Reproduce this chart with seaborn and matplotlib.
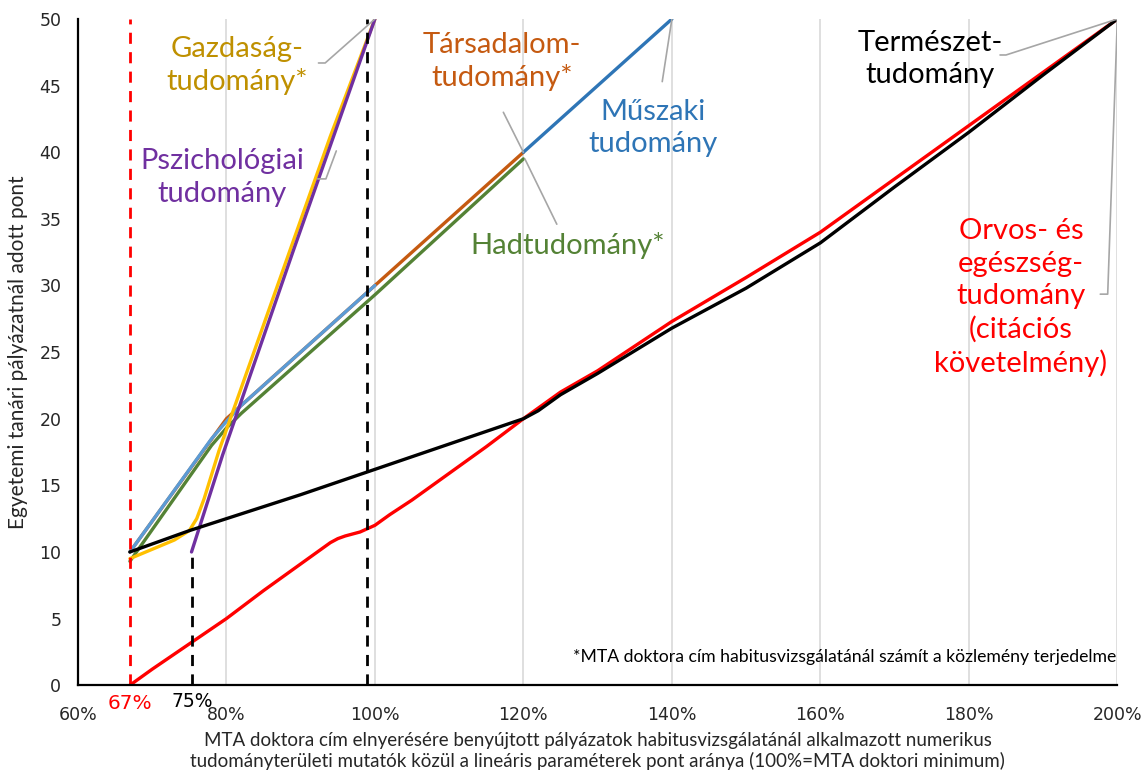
import matplotlib
matplotlib.use("Agg")
import matplotlib.pyplot as plt
import seaborn as sns

# (x in %, y in points)
orvos_x = [67, 70, 75, 80, 85, 90, 92, 94, 95, 96, 98, 100, 102, 105, 110, 115, 120, 125, 130, 140, 150, 160, 170, 180, 190, 200]
orvos_y = [0, 1.2, 3.1, 5.0, 7.1, 9.1, 9.9, 10.7, 11.0, 11.2, 11.5, 12.0, 12.8, 13.9, 15.9, 17.9, 20.0, 22.0, 23.6, 27.3, 30.6, 34.0, 38.0, 42.0, 46.0, 50.0]

termeszet_x = [67, 75, 90, 100, 110, 120, 122, 125, 130, 140, 150, 160, 170, 180, 190, 200]
termeszet_y = [10, 11.6, 14.3, 16.2, 18.1, 20.0, 20.6, 21.8, 23.4, 26.8, 29.8, 33.2, 37.4, 41.5, 45.8, 50.0]

gazdasag_x = [67, 70, 73, 75, 76, 77, 78, 79, 88.6, 94, 100]
gazdasag_y = [9.5, 10.2, 10.9, 11.6, 12.5, 14.0, 15.8, 17.6, 32.7, 41.2, 50.0]

pszich_x = [75.3, 79.5, 89, 100]
pszich_y = [10.0, 17.3, 32.6, 50.0]

tarsadalom_x = [67, 80, 100, 120]
tarsadalom_y = [10, 20, 30, 40]

muszaki_x = [67, 78, 80, 82, 100]
muszaki_y = [10, 18.5, 19.8, 21.0, 30]

muszaki2_x = [120, 140]
muszaki2_y = [40, 50]

had_x = [67, 78, 80, 82, 100, 120]
had_y = [9.3, 18.0, 19.3, 20.4, 29.3, 39.5]

x_ticks = [60, 80, 100, 120, 140, 160, 180, 200]
y_ticks = [0, 5, 10, 15, 20, 25, 30, 35, 40, 45, 50]

sns.set_theme(style="white")
plt.rcParams["font.family"] = ["Lato", "DejaVu Sans"]

fig = plt.figure(figsize=(11.46, 7.76), dpi=100)
ax = fig.add_axes([0.068, 0.117, 0.907, 0.8585])

for xv in x_ticks[1:]:
    ax.axvline(xv, color="#D9D9D9", lw=1.2, zorder=0)

lw = 2.4
sns.lineplot(x=tarsadalom_x, y=tarsadalom_y, color="#C55A11", lw=lw, ax=ax, sort=False)
sns.lineplot(x=had_x, y=had_y, color="#548235", lw=lw, ax=ax, sort=False)
sns.lineplot(x=muszaki_x, y=muszaki_y, color="#5B9BD5", lw=lw, ax=ax, sort=False)
sns.lineplot(x=muszaki2_x, y=muszaki2_y, color="#2E75B6", lw=lw, ax=ax, sort=False)
sns.lineplot(x=gazdasag_x, y=gazdasag_y, color="#FFC000", lw=lw, ax=ax, sort=False)
sns.lineplot(x=pszich_x, y=pszich_y, color="#7030A0", lw=lw, ax=ax, sort=False)
sns.lineplot(x=orvos_x, y=orvos_y, color="#FF0000", lw=lw, ax=ax, sort=False)
sns.lineplot(x=termeszet_x, y=termeszet_y, color="black", lw=lw, ax=ax, sort=False)

# threshold markers
ax.plot([67, 67], [0, 50], color="#FF0000", lw=2, ls=(0, (4, 3)))
ax.plot([75.4, 75.4], [0, 10], color="black", lw=2, ls=(0, (4, 3)))
ax.plot([98.9, 98.9], [0, 50], color="black", lw=2, ls=(0, (4, 3)))

ax.set_xlim(60, 200)
ax.set_ylim(0, 50)
ax.set_xticks(x_ticks)
ax.set_xticklabels([f"{v}%" for v in x_ticks], fontsize=12.5, family="DejaVu Sans")
ax.set_yticks(y_ticks)
ax.set_yticklabels([str(v) for v in y_ticks], fontsize=12.5, family="DejaVu Sans")
ax.tick_params(axis="x", length=0, pad=15)
ax.tick_params(axis="y", length=0, pad=12)
for s in ["top", "right"]:
    ax.spines[s].set_visible(False)
for s in ["left", "bottom"]:
    ax.spines[s].set_color("black")
    ax.spines[s].set_linewidth(1.6)

ax.text(67, -1.35, "67%", color="#FF0000", fontsize=14.5, ha="center", va="center", family="DejaVu Sans")
ax.text(75.4, -1.2, "75%", color="black", fontsize=13.5, ha="center", va="center", family="DejaVu Sans")

ax.set_ylabel("Egyetemi tanári pályázatnál adott pont", fontsize=15, labelpad=8)
ax.set_xlabel("MTA doktora cím elnyerésére benyújtott pályázatok habitusvizsgálatánál alkalmazott numerikus\n"
              "tudományterületi mutatók közül a lineáris paraméterek pont aránya (100%=MTA doktori minimum)",
              fontsize=13.5, labelpad=6, linespacing=1.15)

lab = dict(fontsize=21, ha="center", va="center", linespacing=1.3)
gray = dict(color="#A6A6A6", lw=1.2)

ax.text(81.4, 46.5, "Gazdaság-\ntudomány*", color="#BF9000", **lab)
ax.plot([100, 93.3, 92.4], [50, 46.7, 46.7], **gray)

ax.text(79.4, 38.1, "Pszichológiai\ntudomány", color="#7030A0", **lab)
ax.plot([92.3, 93.4, 94.8], [38.0, 38.0, 40.1], **gray)

ax.text(117.1, 46.8, "Társadalom-\ntudomány*", color="#C55A11", **lab)
ax.plot([117.3, 120], [43.0, 40.0], **gray)

ax.text(137.5, 41.8, "Műszaki\ntudomány", color="#2E75B6", **lab)
ax.plot([138.7, 140], [45.3, 50], **gray)

ax.text(125.9, 33.0, "Hadtudomány*", color="#548235", **lab)
ax.plot([124.5, 120.2], [34.6, 39.5], **gray)

ax.text(174.8, 47.0, "Természet-\ntudomány", color="black", **lab)
ax.plot([184.2, 185.0, 200], [47.3, 47.3, 50], **gray)

ax.text(187.0, 29.1, "Orvos- és\negészség-\ntudomány\n(citációs\nkövetelmény)", color="#FF0000", **lab)
ax.plot([197.7, 198.7, 200], [29.35, 29.35, 50], **gray)

ax.text(199.8, 2.1, "*MTA doktora cím habitusvizsgálatánál számít a közlemény terjedelme",
        fontsize=12.7, ha="right", va="center", color="black")

fig.savefig("out.png", dpi=100)
